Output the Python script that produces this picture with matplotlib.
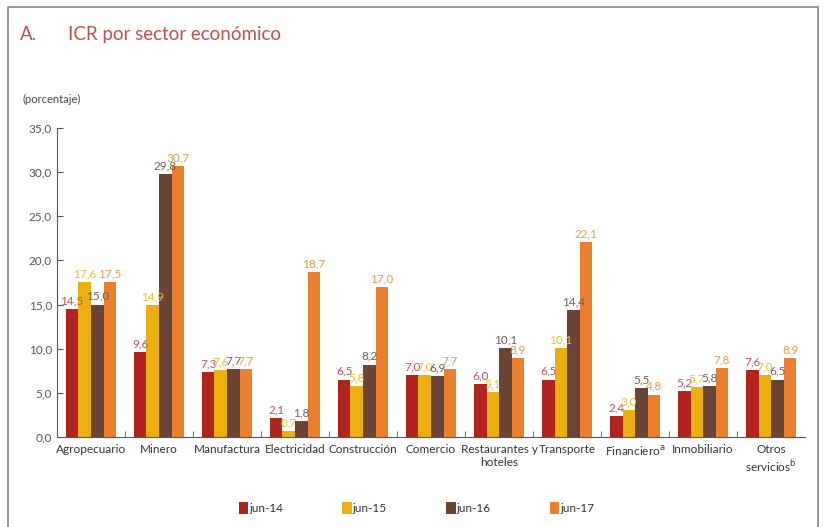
import numpy as np
import matplotlib.pyplot as plt
from matplotlib.patches import Rectangle

plt.rcParams['font.family'] = ['Lato', 'DejaVu Sans']

sectores = ['Agropecuario', 'Minero', 'Manufactura', 'Electricidad', 'Construcción',
            'Comercio', 'Restaurantes y\nhoteles', 'Transporte', 'Financiero$^{\\mathrm{a}}$',
            'Inmobiliario', 'Otros\nservicios$^{\\mathrm{b}}$']
series = ['jun-14', 'jun-15', 'jun-16', 'jun-17']
jun14 = [14.5, 9.6, 7.3, 2.1, 6.5, 7.0, 6.0, 6.5, 2.4, 5.2, 7.6]
jun15 = [17.6, 14.9, 7.6, 0.7, 5.8, 7.0, 5.1, 10.1, 3.0, 5.7, 7.0]
jun16 = [15.0, 29.8, 7.7, 1.8, 8.2, 6.9, 10.1, 14.4, 5.5, 5.8, 6.5]
jun17 = [17.5, 30.7, 7.7, 18.7, 17.0, 7.7, 8.9, 22.1, 4.8, 7.8, 8.9]

colores = ['#B0261E', '#E9B010', '#6B4438', '#EA7F30']
col_etiq = ['#C9505A', '#F0C030', '#6E5F5A', '#F09850']

fig = plt.figure(figsize=(8.25, 5.27), dpi=100)
ax = fig.add_axes([0.069, 0.171, 0.907, 0.586])

x = np.arange(len(sectores))
w = 0.185
datos = [jun14, jun15, jun16, jun17]
for i, vals in enumerate(datos):
    pos = x + (i - 1.5) * w
    ax.bar(pos, vals, width=w, color=colores[i], label=series[i])
    for p, v in zip(pos, vals):
        ax.text(p, v + 0.3, f'{v:.1f}'.replace('.', ','), ha='center', va='bottom',
                fontsize=8.5, color=col_etiq[i])

ax.set_xlim(-0.5, len(sectores) - 0.5)
ax.set_ylim(0, 35)
ax.set_yticks(np.arange(0, 36, 5))
ax.set_yticklabels([f'{t:.1f}'.replace('.', ',') for t in np.arange(0, 36, 5)],
                   fontsize=8.5, color='#555555')
ax.set_xticks(x)
ax.set_xticklabels(sectores, fontsize=8.5, color='#333333')
ax.tick_params(axis='x', length=0, pad=5)
ax.set_xticks(np.arange(0.5, len(sectores) - 0.5, 1), minor=True)
ax.tick_params(axis='x', which='minor', direction='in', length=4, color='#555555')
ax.tick_params(axis='y', direction='in', length=4, color='#555555')
for s in ['top', 'right']:
    ax.spines[s].set_visible(False)
ax.spines['left'].set_color('#555555')
ax.spines['bottom'].set_color('#555555')

fig.text(0.024, 0.925, 'A.', fontsize=13.5, color='#C0504D')
fig.text(0.083, 0.925, 'ICR por sector económico', fontsize=13.5, color='#C0504D')
fig.text(0.027, 0.805, '(porcentaje)', fontsize=8, color='#444444')

ax.legend(loc='center', bbox_to_anchor=(0.505, 0.036), bbox_transform=fig.transFigure,
          ncol=4, frameon=False, fontsize=8.5, handlelength=0.8, handleheight=1.2,
          handletextpad=0.1, columnspacing=5.0, labelcolor='#333333')

fig.patches.append(Rectangle((0.010, -0.05), 0.981, 1.037, transform=fig.transFigure,
                             fill=False, edgecolor='#888888', linewidth=1.2))

fig.savefig('out.png', dpi=100)
